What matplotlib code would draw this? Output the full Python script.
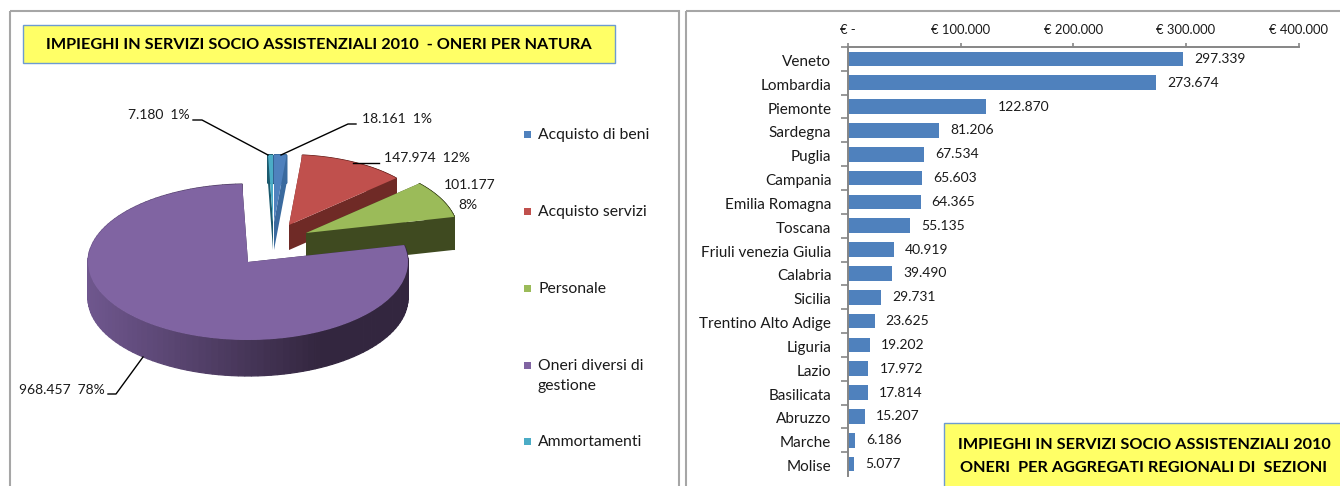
import numpy as np
import matplotlib
matplotlib.use('Agg')
import matplotlib.pyplot as plt
from matplotlib.patches import Rectangle, Polygon
from matplotlib.transforms import ScaledTranslation

plt.rcParams['font.family'] = ['Lato', 'DejaVu Sans']

# pie data
nature_names = ['Acquisto di beni', 'Acquisto servizi', 'Personale', 'Ammortamenti']
pie_values = [18161, 147974, 101177, 968457, 7180]
pie_colors = ['#4f81bd', '#c0504d', '#9bbb59', '#8064a2', '#4bacc6']
pie_darks = ['#3a6a9e', '#6f2a26', '#3f4a20', '#35274a', '#1c5a6e']

# bar data
regions = ['Veneto', 'Lombardia', 'Piemonte', 'Sardegna', 'Puglia', 'Campania',
           'Emilia Romagna', 'Toscana', 'Friuli venezia Giulia', 'Calabria', 'Sicilia',
           'Trentino Alto Adige', 'Liguria', 'Lazio', 'Basilicata', 'Abruzzo', 'Marche', 'Molise']
region_values = [297339, 273674, 122870, 81206, 67534, 65603, 64365, 55135, 40919,
                 39490, 29731, 23625, 19202, 17972, 17814, 15207, 6186, 5077]
x_ticks = [0, 100000, 200000, 300000, 400000]
x_labels = ['€ -', '€ 100.000', '€ 200.000', '€ 300.000', '€ 400.000']

W, H = 1340, 486
fig = plt.figure(figsize=(W / 100, H / 100), dpi=100)

# overlay in pixel coordinates
ax = fig.add_axes([0, 0, 1, 1], zorder=3)
ax.set_xlim(0, W)
ax.set_ylim(H, 0)
ax.axis('off')
ax.patch.set_alpha(0)

# frames
for x0, x1 in [(10, 679), (685.5, 1345)]:
    ax.add_patch(Rectangle((x0, 11), x1 - x0, 490, fc='none', ec='#a6a6a6', lw=1.5))

# title boxes
title_size = 11.7
ax.add_patch(Rectangle((23, 25), 592, 38, fc='#ffff66', ec='#6d9bd1', lw=1))
ax.text(319, 45, 'IMPIEGHI IN SERVIZI SOCIO ASSISTENZIALI 2010  - ONERI PER NATURA',
        ha='center', va='center', fontsize=title_size, fontweight='bold', color='black')
ax.add_patch(Rectangle((944, 423), 410, 80, fc='#ffff66', ec='#6d9bd1', lw=1))
ax.text(1144, 445, 'IMPIEGHI IN SERVIZI SOCIO ASSISTENZIALI 2010',
        ha='center', va='center', fontsize=title_size, fontweight='bold', color='black')
ax.text(1144, 468, 'ONERI  PER AGGREGATI REGIONALI DI  SEZIONI',
        ha='center', va='center', fontsize=title_size, fontweight='bold', color='black')

# pie axes: one x unit is 160 px, one y unit is 78 px so the circle comes out flat
RX, RY = 160, 78
axp = fig.add_axes([0, 0, 1, 1], zorder=2)
wedges, _ = axp.pie(pie_values, colors=pie_colors, startangle=90, counterclock=False)
axp.set_aspect('auto')
axp.set_xlim(0, W / RX)
axp.set_ylim(0, H / RY)
axp.axis('off')

# apex (px), radius, depth (px) of each slice
slice_geom = [((274, 222), 0.86, 28), ((289, 225), 0.90, 25), ((306, 233), 0.95, 33),
              ((248, 262), 1.00, 36), ((273, 222), 0.86, 28)]
draw_order = [4, 0, 1, 2, 3]

def purple_shade(frac):
    a = np.array(matplotlib.colors.to_rgb('#6f578e'))
    b = np.array(matplotlib.colors.to_rgb('#33263f'))
    return tuple(a + (b - a) * min(max(frac, 0), 1))

for z, i in enumerate(draw_order):
    w = wedges[i]
    (px, py), r, d = slice_geom[i]
    cx, cy = px / RX, (H - py) / RY
    dd = d / RY
    w.set_center((cx, cy))
    w.set_radius(r)
    w.set_zorder(10 + z * 3 + 2)
    w.set_linewidth(0)
    t1, t2 = np.radians(w.theta1), np.radians(w.theta2)
    # cut faces
    for t in (t1, t2):
        ex, ey = cx + r * np.cos(t), cy + r * np.sin(t)
        axp.add_patch(Polygon([(cx, cy), (ex, ey), (ex, ey - dd), (cx, cy - dd)],
                              fc=pie_darks[i], ec='none', zorder=10 + z * 3))
    # outer rim, split up so the big slice can be shaded left to right
    ts = np.linspace(t1, t2, 120)
    for a, b in zip(ts[:-1], ts[1:]):
        xa, ya = cx + r * np.cos(a), cy + r * np.sin(a)
        xb, yb = cx + r * np.cos(b), cy + r * np.sin(b)
        col = pie_darks[i]
        if i == 3:
            col = purple_shade((xa * RX - 88) / 230)
        axp.add_patch(Polygon([(xa, ya), (xb, yb), (xb, yb - dd), (xa, ya - dd)],
                              fc=col, ec=col, lw=0.9, zorder=10 + z * 3 + 1))

# pie labels and leader lines
label_size = 10
ax.text(128, 115, '7.180  1%', va='center', fontsize=label_size, color='#1a1a1a')
ax.plot([193, 202, 268], [120, 120, 155], color='black', lw=1)
ax.text(362, 119, '18.161  1%', va='center', fontsize=label_size, color='#1a1a1a')
ax.plot([356, 348, 281], [124, 124, 155], color='black', lw=1)
ax.text(384, 158, '147.974  12%', va='center', fontsize=label_size, color='#1a1a1a')
ax.plot([353, 379], [163, 163], color='black', lw=1)
ax.text(470, 185, '101.177', ha='center', va='center', fontsize=label_size, color='#1a1a1a')
ax.text(468, 205, '8%', ha='center', va='center', fontsize=label_size, color='#1a1a1a')
ax.text(19, 390, '968.457  78%', va='center', fontsize=label_size, color='#1a1a1a')
ax.plot([108, 116, 143], [394, 394, 357], color='black', lw=1)

# legend
legend_y = [134, 211, 288, 441]
legend_colors = [pie_colors[0], pie_colors[1], pie_colors[2], pie_colors[4]]
legend_size = 11.3
for name, y, c in zip(nature_names, legend_y, legend_colors):
    ax.add_patch(Rectangle((524, y - 3.5), 7, 7, fc=c, ec='none'))
    ax.text(538, y + 1, name, va='center', fontsize=legend_size, color='#1a1a1a')
ax.add_patch(Rectangle((524, 361.5), 7, 7, fc=pie_colors[3], ec='none'))
ax.text(538, 366, 'Oneri diversi di', va='center', fontsize=legend_size, color='#1a1a1a')
ax.text(538, 386, 'gestione', va='center', fontsize=legend_size, color='#1a1a1a')

# bar chart
axb = fig.add_axes([848 / W, (H - 476) / H, 450.7 / W, 429 / H], zorder=1)
bars = axb.barh(regions, region_values, height=0.62, color='#4f81bd')
axb.set_xlim(0, 400000)
axb.set_ylim(len(regions) - 0.5, -0.5)
axb.xaxis.tick_top()
axb.set_xticks(x_ticks)
axb.set_xticklabels(x_labels, fontsize=9.4, color='#1a1a1a')
axb.tick_params(axis='x', length=3, width=1.2, color='#868686', pad=5)
axb.set_yticks(np.arange(len(regions)) - 0.5, minor=True)
axb.tick_params(axis='y', which='minor', length=5, width=1.2, color='#868686')
axb.tick_params(axis='y', which='major', length=0, pad=12, labelsize=11, labelcolor='#1a1a1a')
for s in ['right', 'bottom']:
    axb.spines[s].set_visible(False)
for s in ['left', 'top']:
    axb.spines[s].set_color('#868686')
    axb.spines[s].set_linewidth(1.4)
value_labels = axb.bar_label(bars, labels=[f'{v:,}'.replace(',', '.') for v in region_values],
                             padding=8, fontsize=label_size, color='#1a1a1a')

# nudge the text down a little to sit level with the bars
nudge = ScaledTranslation(0, -1.5 / 100, fig.dpi_scale_trans)
for t in list(value_labels) + axb.get_yticklabels():
    t.set_transform(t.get_transform() + nudge)

fig.savefig('out.png', dpi=100)
